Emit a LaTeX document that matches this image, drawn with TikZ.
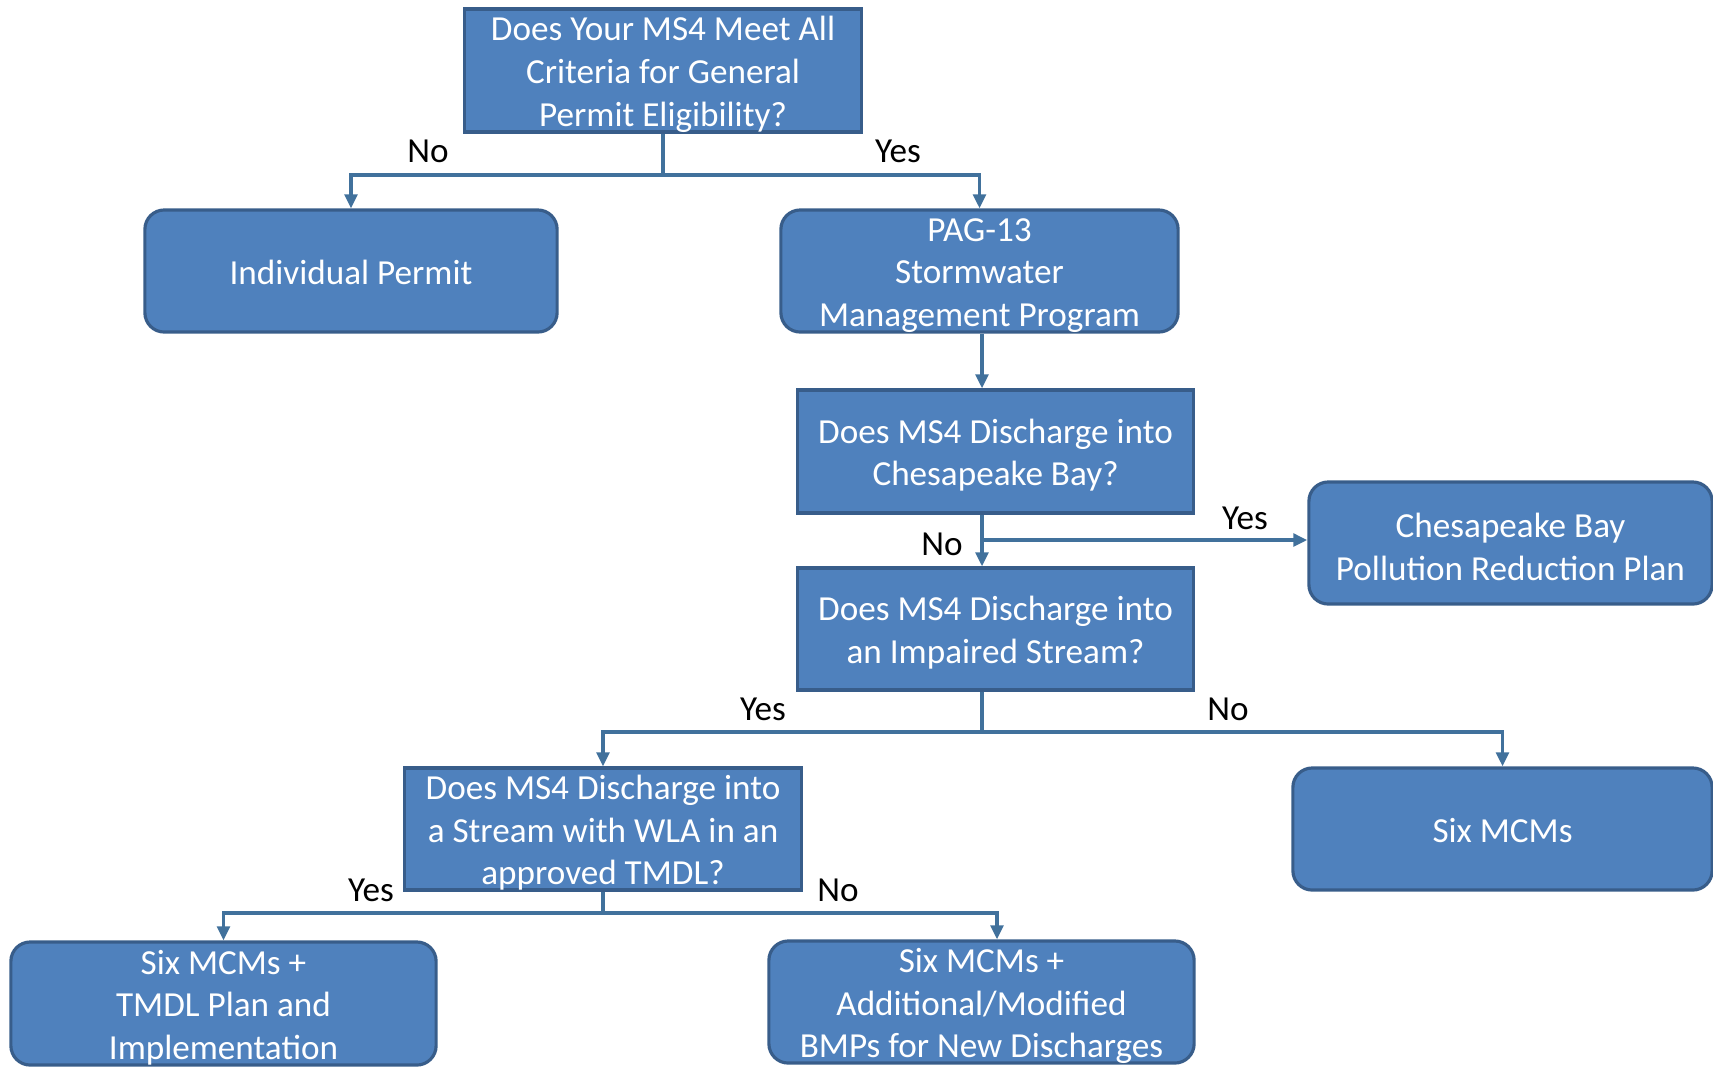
\documentclass[tikz,border=0pt]{standalone}
\usepackage{fontspec}
\setmainfont{Carlito}
\usetikzlibrary{arrows.meta}
\definecolor{boxblue}{HTML}{4F81BD}
\definecolor{boxedge}{HTML}{385D8A}
\definecolor{linkblue}{HTML}{41719C}
\newcommand{\toprow}{\rule{0pt}{9.1pt}}
\tikzset{
  qbox/.style={draw=boxedge,line width=0.9pt,fill=boxblue,text=white,align=center,inner xsep=0pt,inner ysep=-4pt,
    font=\fontsize{10}{12.1}\selectfont,execute at begin node={\rule{0pt}{7.8pt}}},
  rbox/.style={qbox,rounded corners=5.5pt},
  link/.style={draw=linkblue,line width=1pt},
  arr/.style={link,-{Triangle[length=4pt,width=3.6pt]}},
  ans/.style={font=\fontsize{10}{12.1}\selectfont}
}
\begin{document}
\begin{tikzpicture}[x=0.01cm,y=-0.01cm]
\useasboundingbox (0,0) rectangle (1713,1066);
\node [qbox,minimum width=3.96cm,minimum height=1.23cm] (elig) at (663,70.5) {\toprow Does Your MS4 Meet All\\Criteria for General\\Permit Eligibility?};
\node [rbox,minimum width=4.12cm,minimum height=1.22cm] (indiv) at (351,271) {Individual Permit};
\node [rbox,minimum width=3.97cm,minimum height=1.22cm] (pag) at (979.5,271) {\toprow PAG-13\\Stormwater\\Management Program};
\node [qbox,minimum width=3.95cm,minimum height=1.23cm] (bay) at (995.5,451.5) {\toprow Does MS4 Discharge into\\Chesapeake Bay?};
\node [rbox,minimum width=4.03cm,minimum height=1.22cm] (bayplan) at (1510.5,543) {\toprow Chesapeake Bay\\Pollution Reduction Plan};
\node [qbox,minimum width=3.95cm,minimum height=1.22cm] (impaired) at (995.5,629) {\toprow Does MS4 Discharge into\\an Impaired Stream?};
\node [qbox,minimum width=3.96cm,minimum height=1.22cm] (wla) at (603,829) {\toprow Does MS4 Discharge into\\a Stream with WLA in an\\approved TMDL?};
\node [rbox,minimum width=4.19cm,minimum height=1.22cm] (six) at (1502.5,829) {Six MCMs};
\node [rbox,minimum width=4.25cm,minimum height=1.23cm] (tmdl) at (223.5,1003.5) {\toprow Six MCMs +\\TMDL Plan and\\Implementation};
\node [rbox,minimum width=4.25cm,minimum height=1.22cm] (newbmp) at (981.5,1002) {\toprow Six MCMs +\\Additional/Modified\\BMPs for New Discharges};
% branch points
\coordinate (j1) at (663,175);
\coordinate (j2) at (982,540);
\coordinate (j3) at (982,732);
\coordinate (j4) at (603,913);
\coordinate (k4) at (997,913);
\draw [link] (elig.south) -- (j1);
\draw [arr] (j1) -| (indiv.north);
\draw [arr] (j1) -| (pag.north);
\draw [arr] (pag.south -| j2) -- (bay.north -| j2);
\draw [link] (bay.south -| j2) -- (j2);
\draw [arr] (j2) -- (impaired.north -| j2);
\draw [arr] (j2) -- (j2 -| bayplan.west);
\draw [link] (impaired.south -| j3) -- (j3);
\draw [arr] (j3) -| (wla.north);
\draw [arr] (j3) -| (six.north);
\draw [link] (wla.south) -- (j4);
\draw [arr] (j4) -| (tmdl.north);
\draw [arr] (j4) -- (k4) -- (k4 |- newbmp.north);
\node [ans] (no1) at (428,151) {No};
\node [ans] (yes1) at (898,151) {Yes};
\node [ans] (yes2) at (1245,518) {Yes};
\node [ans] (no2) at (942,544) {No};
\node [ans] (yes3) at (763,709) {Yes};
\node [ans] (no3) at (1228,709) {No};
\node [ans] (yes4) at (371,890) {Yes};
\node [ans] (no4) at (838,890) {No};
\end{tikzpicture}
\end{document}
